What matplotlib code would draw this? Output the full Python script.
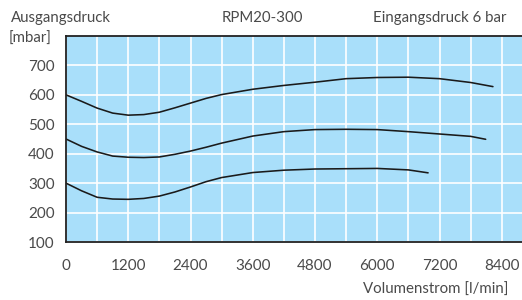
import matplotlib
matplotlib.use("Agg")
import matplotlib.pyplot as plt
from matplotlib.ticker import MultipleLocator

plt.rcParams['font.family'] = ['Lato', 'DejaVu Sans']

# Data (Volumenstrom [l/min] vs Ausgangsdruck [mbar])
x_top = [0, 300, 600, 900, 1200, 1500, 1800, 2100, 2400, 2700, 3000, 3600, 4200, 4800, 5400, 6000, 6600, 7200, 7800, 8230]
y_top = [600, 578, 555, 538, 531, 533, 541, 556, 572, 588, 601, 619, 632, 643, 655, 659, 660, 655, 642, 628]

x_mid = [0, 300, 600, 900, 1200, 1500, 1800, 2100, 2400, 2700, 3000, 3600, 4200, 4800, 5400, 6000, 6600, 7200, 7800, 8090]
y_mid = [450, 425, 406, 392, 388, 387, 389, 398, 409, 422, 436, 460, 475, 482, 483, 482, 475, 467, 459, 449]

x_bot = [0, 300, 600, 900, 1200, 1500, 1800, 2100, 2400, 2700, 3000, 3600, 4200, 4800, 5400, 6000, 6600, 6980]
y_bot = [300, 274, 252, 246, 245, 248, 256, 270, 287, 305, 319, 336, 344, 348, 349, 350, 345, 335]

x_ticks = [0, 1200, 2400, 3600, 4800, 6000, 7200, 8400]
y_ticks = [100, 200, 300, 400, 500, 600, 700]

title_left = "Ausgangsdruck"
unit_left = "[mbar]"
title_center = "RPM20-300"
title_right = "Eingangsdruck 6 bar"
xlabel = "Volumenstrom [l/min]"

fig = plt.figure(figsize=(5.22, 3.0), dpi=100)
ax = fig.add_axes([66 / 522, 58 / 300, (522 - 66) / 522, 206 / 300])
ax.set_facecolor('#a9dffa')

ax.set_xlim(0, 8790)
ax.set_ylim(100, 800)
ax.xaxis.set_minor_locator(MultipleLocator(600))
ax.set_xticks(x_ticks)
ax.set_yticks(y_ticks)
ax.set_xticklabels([str(v) for v in x_ticks])
ax.set_yticklabels([str(v) for v in y_ticks])
ax.grid(True, which='both', axis='x', color='white', linewidth=1.2)
ax.grid(True, which='major', axis='y', color='white', linewidth=1.2)
ax.set_axisbelow(True)

ax.tick_params(axis='both', which='both', length=0, labelsize=11, labelcolor='#4a4a4a')
ax.tick_params(axis='x', pad=12)
ax.tick_params(axis='y', pad=8)

for s in ['left', 'bottom', 'top']:
    ax.spines[s].set_color('#222222')
    ax.spines[s].set_linewidth(1.3)
ax.spines['right'].set_visible(False)

for xs, ys in [(x_top, y_top), (x_mid, y_mid), (x_bot, y_bot)]:
    ax.plot(xs, ys, color='#1a1a1a', linewidth=1.15, solid_capstyle='round', solid_joinstyle='round')

txt = dict(color='#4a4a4a', fontsize=10.8)
fig.text(11 / 522, 1 - 18 / 300, title_left, ha='left', va='center', **txt)
fig.text(9 / 522, 1 - 39 / 300, unit_left, ha='left', va='center', **txt)
fig.text(262 / 522, 1 - 18 / 300, title_center, ha='center', va='center', **txt)
fig.text(506 / 522, 1 - 18 / 300, title_right, ha='right', va='center', **txt)
fig.text(508 / 522, 1 - 290 / 300, xlabel, ha='right', va='center', **txt)

fig.savefig("out.png", dpi=100)
